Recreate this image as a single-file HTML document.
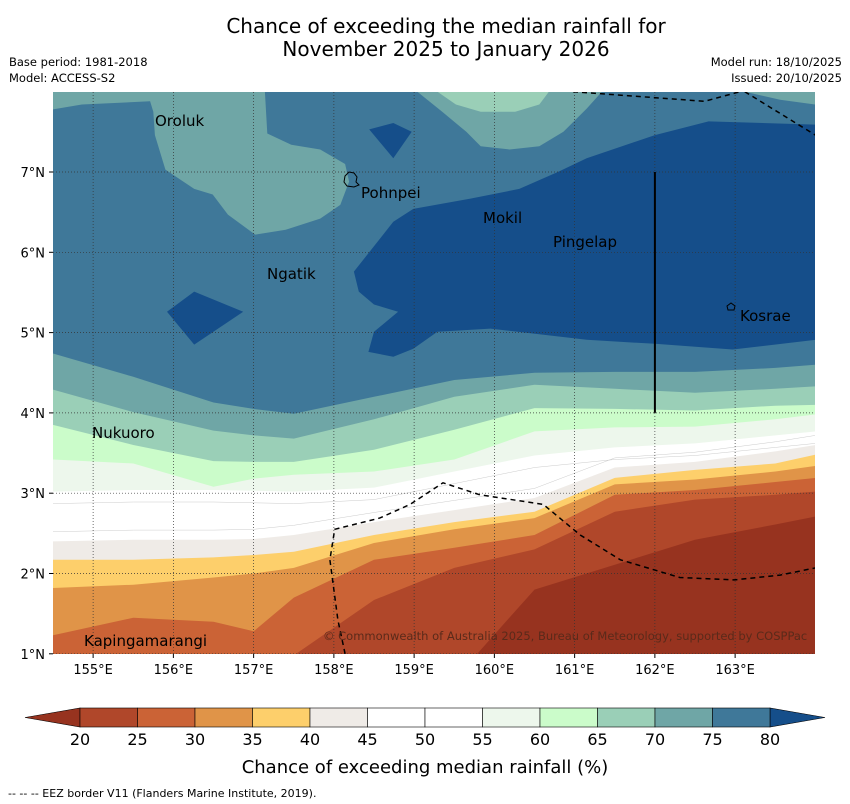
<!DOCTYPE html>
<html><head><meta charset="utf-8"><style>
html,body{margin:0;padding:0;background:#fff;}
body{width:850px;height:804px;overflow:hidden;font-family:"DejaVu Sans","Liberation Sans",sans-serif;}
svg{display:block;font-family:"DejaVu Sans","Liberation Sans",sans-serif;}
</style></head><body>
<svg id="chart" width="850" height="804" viewBox="0 0 850 804" xmlns="http://www.w3.org/2000/svg">
<defs><clipPath id="mapclip"><rect x="53" y="92" width="762" height="562"/></clipPath></defs>
<text x="446" y="33" text-anchor="middle" font-size="20">Chance of exceeding the median rainfall for</text>
<text x="446" y="56" text-anchor="middle" font-size="20">November 2025 to January 2026</text>
<text x="9" y="66" font-size="11.5">Base period: 1981-2018</text>
<text x="9" y="82" font-size="11.5">Model: ACCESS-S2</text>
<text x="842" y="66" font-size="11.5" text-anchor="end">Model run: 18/10/2025</text>
<text x="842" y="82" font-size="11.5" text-anchor="end">Issued: 20/10/2025</text>
<g id="map" clip-path="url(#mapclip)">
<rect x="53" y="92" width="762" height="562" fill="#3f7899"/>
</g>
<g id="overlay"></g>
<g id="axes"></g>
<g id="cbar"></g>
<text x="425" y="773" text-anchor="middle" font-size="18">Chance of exceeding median rainfall (%)</text>
<text x="8" y="797" font-size="11">--  --  -- EEZ border V11 (Flanders Marine Institute, 2019).</text>
</svg>
<script>
// ---- data ----
const lonNodes=[154.5,155.5,156.5,157.0,157.5,158.5,159.5,160.5,161.5,162.5,163.5,164];
const band75=[4.74,4.45,4.13,4.05,3.99,4.20,4.41,4.50,4.51,4.51,4.56,4.60];
const band70=[4.29,4.01,3.78,3.72,3.68,3.92,4.20,4.35,4.30,4.25,4.30,4.33];
const band65=[3.85,3.60,3.40,3.39,3.39,3.54,3.79,4.06,4.05,4.03,4.09,4.10];
const band60=[3.42,3.37,3.08,3.18,3.23,3.27,3.42,3.77,3.82,3.83,3.92,3.98];
const band55=[3.02,3.04,3.04,3.03,3.02,3.07,3.27,3.47,3.57,3.62,3.72,3.77];
const band45=[2.40,2.42,2.42,2.43,2.48,2.64,2.79,2.94,3.32,3.39,3.52,3.60];
const band40=[2.17,2.17,2.20,2.23,2.27,2.48,2.64,2.77,3.19,3.29,3.37,3.48];
const band35=[1.82,1.86,1.95,2.00,2.07,2.38,2.55,2.69,3.11,3.17,3.27,3.34];
const band30=[1.23,1.45,1.40,1.28,1.70,2.17,2.32,2.48,2.98,3.04,3.14,3.19];
const band25=[0.93,0.93,0.93,0.93,0.98,1.67,2.07,2.30,2.77,2.92,2.98,3.02];
const band20=[0.4,0.4,0.4,0.4,0.4,0.4,0.68,1.80,2.11,2.42,2.61,2.71];
const polyA_lon=[154.5,157.14,157.17,157.47,157.83,158.14,158.19,158.08,157.83,157.40,157.02,156.68,156.49,156.26,155.90,155.77,155.75,155.71,154.86,154.5];
const polyA_lat=[8,8,7.48,7.34,7.28,7.10,6.88,6.59,6.42,6.28,6.22,6.47,6.72,6.79,7.03,7.46,7.75,7.88,7.84,7.78];
const polyB_lon=[159.04,159.35,159.65,159.83,160.19,160.56,160.86,161.15,161.34];
const polyB_lat=[8,7.75,7.50,7.32,7.28,7.32,7.50,7.79,8];
const polyC_lon=[159.29,159.52,159.83,160.26,160.56,160.68];
const polyC_lat=[8,7.84,7.75,7.75,7.84,8];
const polyD_lon=[163.12,164,164,163.56];
const polyD_lat=[8,8,7.84,7.90];
const polyE_lon=[158.44,158.74,158.97,158.74];
const polyE_lat=[7.53,7.61,7.50,7.17];
const polyF_lon=[155.92,156.26,156.87,156.26];
const polyF_lat=[5.26,5.51,5.26,4.85];
const polyG_lon=[164,162.67,162.0,161.15,160.79,160.31,159.71,158.99,158.74,158.25,158.31,158.50,158.80,158.50,158.43,158.74,158.99,159.29,159.95,161.15,162.0,162.97,164];
const polyG_lat=[7.59,7.63,7.46,7.17,7.0,6.79,6.67,6.54,6.38,5.76,5.51,5.35,5.26,5.01,4.76,4.70,4.80,5.01,5.05,4.91,4.86,4.79,4.91];
const eez1_lon=[160.98,162.62,163.06], eez1_lat=[8,7.88,8];
const eez2_lon=[163.12,164], eez2_lat=[8,7.46];
const eez3_lon=[158.14,158.05,157.95,158.01,158.57,158.95,159.36,159.82,160.61,161.07,161.57,162.31,162.99,163.56,164];
const eez3_lat=[1.0,1.42,2.17,2.55,2.69,2.86,3.13,2.98,2.86,2.48,2.17,1.95,1.92,1.98,2.07];
const lonTicks=[155,156,157,158,159,160,161,162,163];
const latTicks=[1,2,3,4,5,6,7];
const cbarTicks=[20,25,30,35,40,45,50,55,60,65,70,75,80];
const cbarColors=["#b0472a","#cb6336","#e09448","#fdcf6b","#efebe7","#ffffff","#ffffff","#edf7ec","#cbfcca","#9acfb7","#6fa6a6","#3f7899"];
const underColor="#97331f", overColor="#154e8a";
// ---- axes ----
const X=lon=>53+(lon-154.5)*80.25;
const Y=lat=>172+(7-lat)*80.3;
const NS="http://www.w3.org/2000/svg";
function mk(tag,attrs,parent){const e=document.createElementNS(NS,tag);for(const k in attrs)e.setAttribute(k,attrs[k]);parent.appendChild(e);return e;}
const map=document.getElementById('map'),ov=document.getElementById('overlay'),ax=document.getElementById('axes'),cb=document.getElementById('cbar');
function poly(lons,lats,fill,name){
  const pts=lons.map((l,i)=>X(l).toFixed(1)+','+Y(lats[i]).toFixed(1)).join(' ');
  const p=mk('polygon',{points:pts,fill:fill},map);
  
  
}
poly(polyA_lon,polyA_lat,"#6fa6a6","contour-70-75-west");
poly(polyB_lon,polyB_lat,"#6fa6a6","contour-70-75-north");
poly(polyC_lon,polyC_lat,"#9acfb7","contour-65-70-north");
poly(polyD_lon,polyD_lat,"#6fa6a6","contour-70-75-corner");
poly(polyE_lon,polyE_lat,overColor,"contour-80-patch-north");
poly(polyF_lon,polyF_lat,overColor,"contour-80-patch-west");
poly(polyG_lon,polyG_lat,overColor,"contour-80-main");
const bands=[[band75,"#6fa6a6","band-70-75"],[band70,"#9acfb7","band-65-70"],[band65,"#cbfcca","band-60-65"],[band60,"#edf7ec","band-55-60"],[band55,"#ffffff","band-45-55"],[band45,"#efebe7","band-40-45"],[band40,"#fdcf6b","band-35-40"],[band35,"#e09448","band-30-35"],[band30,"#cb6336","band-25-30"],[band25,"#b0472a","band-20-25"],[band20,underColor,"band-below-20"]];
bands.forEach(b=>{
  const lons=lonNodes.concat([164,154.5]);
  const lats=b[0].concat([0,0]);
  poly(lons,lats,b[1],b[2]);
});
[[band55,0.15],[band45,-0.12]].forEach(o=>{
  const pts=lonNodes.map((l,i)=>X(l).toFixed(1)+','+Y(o[0][i]-o[1]).toFixed(1)).join(' ');
  const l=mk('polyline',{points:pts,fill:'none',stroke:'#ccc','stroke-width':0.5},map);
  
  
});
lonTicks.forEach(l=>{
  const g=mk('line',{x1:X(l),x2:X(l),y1:92,y2:654,stroke:'#333','stroke-width':0.7,'stroke-dasharray':'1,2'},map);
  
  
  const t=mk('line',{x1:X(l),x2:X(l),y1:654,y2:658,stroke:'#000','stroke-width':1},ax);
  
  
  const tx=mk('text',{x:X(l),y:674,'text-anchor':'middle','font-size':13},ax);
  tx.textContent=l+'°E';
  
  
});
latTicks.forEach(l=>{
  const g=mk('line',{x1:53,x2:815,y1:Y(l),y2:Y(l),stroke:'#333','stroke-width':0.7,'stroke-dasharray':'1,2'},map);
  
  
  const t=mk('line',{x1:49,x2:53,y1:Y(l),y2:Y(l),stroke:'#000','stroke-width':1},ax);
  
  
  const tx=mk('text',{x:45,y:Y(l)+5,'text-anchor':'end','font-size':13},ax);
  tx.textContent=l+'°N';
  
  
});
function dline(lons,lats,name,dash,w){
  const pts=lons.map((l,i)=>X(l).toFixed(1)+','+Y(lats[i]).toFixed(1)).join(' ');
  const p=mk('polyline',{points:pts,fill:'none',stroke:'#000','stroke-width':w,'stroke-dasharray':dash},map);
  
  
}
dline(eez1_lon,eez1_lat,'eez-border-north','5,4',1.5);
dline(eez2_lon,eez2_lat,'eez-border-northeast','5,4',1.5);
dline(eez3_lon,eez3_lat,'eez-border-south','5,4',1.5);
dline([162,162],[7,4],'boundary-line-162e','none',2);
const places=[["Oroluk",155,126],["Pohnpei",361,198],["Mokil",483,223],["Pingelap",553,247],["Ngatik",267,279],["Kosrae",740,321],["Nukuoro",92,438],["Kapingamarangi",84,646]];
places.forEach(p=>{
  const t=mk('text',{x:p[1],y:p[2],'font-size':15},ov);
  t.textContent=p[0];
  
  
});
const isl=mk('path',{d:'M345,176 l4,-4 l5,1 l3,4 l-1,5 l3,3 l-5,2 l-7,-1 l-3,-4 z M727,306 l4,-3 l4,3 l-1,4 l-6,0 z',fill:'none',stroke:'#000','stroke-width':1},ov);


const cp=mk('text',{x:323,y:640,'font-size':11.5,fill:'#5a2a1a'},ov);
cp.textContent='© Commonwealth of Australia 2025, Bureau of Meteorology, supported by COSPPac';


const cbX=v=>80+(v-20)*11.5, cbY0=708, cbY1=727;
const under=mk('polygon',{points:`${cbX(20)},${cbY0} ${cbX(20)},${cbY1} 25,717.5`,fill:underColor,stroke:'#000','stroke-width':0.6},cb);


const over=mk('polygon',{points:`${cbX(80)},${cbY0} ${cbX(80)},${cbY1} 825,717.5`,fill:overColor,stroke:'#000','stroke-width':0.6},cb);


cbarColors.forEach((c,i)=>{
  const r=mk('rect',{x:cbX(cbarTicks[i]),y:cbY0,width:cbX(cbarTicks[i+1])-cbX(cbarTicks[i]),height:cbY1-cbY0,fill:c,stroke:'#000','stroke-width':0.6},cb);
  
  
});
cbarTicks.forEach(v=>{
  const t=mk('text',{x:cbX(v),y:745,'text-anchor':'middle','font-size':16},cb);
  t.textContent=v;
  
  
});
</script>
</body></html>
